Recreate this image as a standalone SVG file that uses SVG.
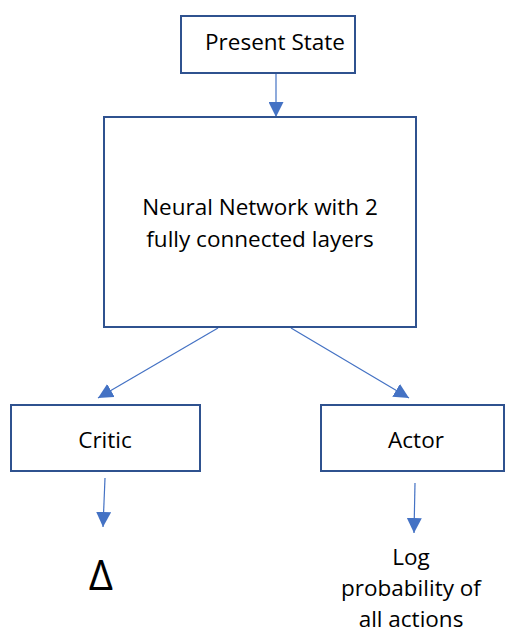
<svg xmlns="http://www.w3.org/2000/svg" width="505" height="633" viewBox="0 0 505 633">
<defs>
<style>
.box{fill:#fff;stroke:#2F528F;stroke-width:2}
.edge{stroke:#4472C4;stroke-width:1.2;fill:none;marker-end:url(#ah)}
.t{font-family:"Open Sans","Liberation Sans",sans-serif;font-size:22.5px;fill:#000;text-anchor:middle}
</style>
<marker id="ah" viewBox="0 0 10 10" refX="10" refY="5" markerWidth="15" markerHeight="15" markerUnits="userSpaceOnUse" orient="auto">
<path d="M0,0 L10,5 L0,10 z" fill="#4472C4"/>
</marker>
</defs>
<rect width="505" height="633" fill="#fff"/>
<g id="edges">
<line class="edge" x1="276" y1="74" x2="276" y2="117"/>
<line class="edge" x1="218" y1="328" x2="98" y2="398"/>
<line class="edge" x1="291" y1="328" x2="409" y2="398"/>
<line class="edge" x1="105" y1="478" x2="103" y2="527"/>
<line class="edge" x1="415" y1="483" x2="414" y2="533"/>
</g>
<g id="present">
<rect class="box" x="181" y="16" width="174" height="57"/>
<text class="t" x="275" y="50">Present State</text>
</g>
<g id="nn">
<rect class="box" x="104" y="117" width="312" height="210"/>
<text class="t" x="260" y="215">Neural Network with 2</text>
<text class="t" x="260" y="247">fully connected layers</text>
</g>
<g id="critic">
<rect class="box" x="11" y="405" width="189" height="66"/>
<text class="t" x="105" y="448">Critic</text>
</g>
<g id="actor">
<rect class="box" x="321" y="405" width="183" height="66"/>
<text class="t" x="416" y="448">Actor</text>
</g>
<g id="delta">
<text class="t" x="101" y="590" style="font-size:42px">Δ</text>
</g>
<g id="logprob">
<text class="t" x="411" y="565">Log</text>
<text class="t" x="411" y="596">probability of</text>
<text class="t" x="411" y="627">all actions</text>
</g>
</svg>
